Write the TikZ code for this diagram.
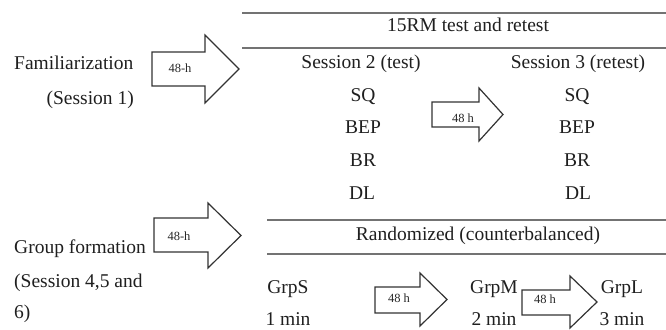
\documentclass[tikz,border=0pt]{standalone}
\usepackage{fontspec}
\setmainfont{Liberation Serif}
\begin{document}
\begin{tikzpicture}[x=1pt,y=-1pt,
  txt/.style={inner sep=0pt,font=\fontsize{19.5}{22}\selectfont,text=black!88},
  lbl/.style={inner sep=0pt,font=\fontsize{12.5}{13}\selectfont,text=black!85},
  rule/.style={draw=black!55,line width=1.4pt},
  barrow/.style={draw=black!80,line width=1.2pt,fill=white,line join=miter}]
\useasboundingbox (0,0) rectangle (666,329);
% rules
\coordinate (t1a) at (242,13); \coordinate (t1b) at (666,13);
\coordinate (t2a) at (242,48); \coordinate (t2b) at (666,48);
\coordinate (b1a) at (267,220); \coordinate (b1b) at (666,220);
\coordinate (b2a) at (267,254); \coordinate (b2b) at (666,254);
\draw[rule] (t1a) -- (t1b);
\draw[rule] (t2a) -- (t2b);
\draw[rule] (b1a) -- (b1b);
\draw[rule] (b2a) -- (b2b);
% block arrows
\draw[barrow] (152,52) -- (205,52) -- (205,35) -- (239,69) -- (205,103) -- (205,86) -- (152,86) -- cycle;
\draw[barrow] (432,102) -- (479,102) -- (479,88) -- (503,114.5) -- (479,141) -- (479,127) -- (432,127) -- cycle;
\draw[barrow] (154,218) -- (208,218) -- (208,203) -- (241,235.5) -- (208,268) -- (208,252) -- (154,252) -- cycle;
\draw[barrow] (375,287) -- (420,287) -- (420,273) -- (447,299.5) -- (420,326) -- (420,313) -- (375,313) -- cycle;
\draw[barrow] (522,290) -- (570,290) -- (570,276) -- (597,302) -- (570,328) -- (570,315) -- (522,315) -- cycle;
\node[lbl,anchor=base] (a1) at (180,73) {48-h};
\node[lbl,anchor=base] (a2) at (463,122) {48 h};
\node[lbl,anchor=base] (a3) at (179,240) {48-h};
\node[lbl,anchor=base] (a4) at (399,302) {48 h};
\node[lbl,anchor=base] (a5) at (545,303) {48 h};
% left texts
\node[txt,anchor=base west] (fam) at (14,70) {Familiarization};
\node[txt,anchor=base east] (s1) at (134,104) {(Session 1)};
\node[txt,anchor=base west] (grp) at (14,253) {Group formation};
\node[txt,anchor=base west] (s456) at (14,287) {(Session 4,5 and};
\node[txt,anchor=base west] (six) at (14,318) {6)};
% headings
\node[txt,anchor=base] (rm) at (468,32) {15RM test and retest};
\node[txt,anchor=base] (sess2) at (361,68) {Session 2 (test)};
\node[txt,anchor=base] (sess3) at (578,68) {Session 3 (retest)};
% exercises
\node[txt,anchor=base] (sq1) at (363,101) {SQ};
\node[txt,anchor=base] (bep1) at (363,133) {BEP};
\node[txt,anchor=base] (br1) at (363,166) {BR};
\node[txt,anchor=base] (dl1) at (362,199) {DL};
\node[txt,anchor=base] (sq2) at (577,101) {SQ};
\node[txt,anchor=base] (bep2) at (577,133) {BEP};
\node[txt,anchor=base] (br2) at (577,166) {BR};
\node[txt,anchor=base] (dl2) at (578,199) {DL};
% randomized
\node[txt,anchor=base] (rand) at (478,240) {Randomized (counterbalanced)};
\node[txt,anchor=base] (gs) at (288,293) {GrpS};
\node[txt,anchor=base] (gm) at (494,293) {GrpM};
\node[txt,anchor=base] (gl) at (622,293) {GrpL};
\node[txt,anchor=base] (m1) at (288,325) {1 min};
\node[txt,anchor=base] (m2) at (494,325) {2 min};
\node[txt,anchor=base] (m3) at (622,325) {3 min};
\end{tikzpicture}
\end{document}
